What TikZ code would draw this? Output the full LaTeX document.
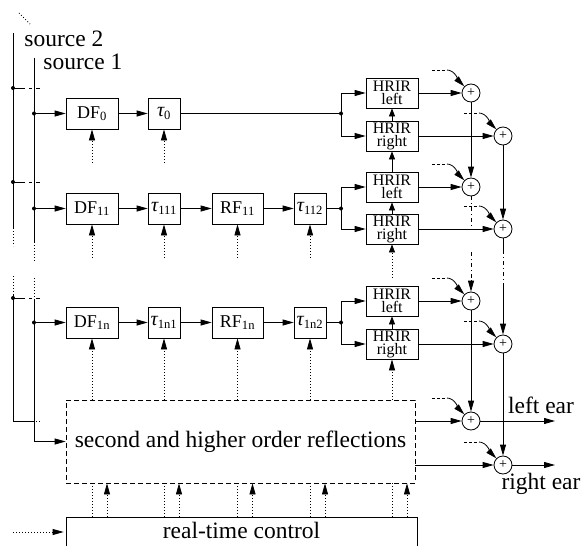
\documentclass[tikz,border=0pt]{standalone}
\usepackage{fontspec}
\setmainfont{Liberation Serif}
\usetikzlibrary{arrows.meta,calc}
\newcommand{\tauit}{{\fontsize{20}{20}\selectfont\itshape τ}}
\begin{document}
\begin{tikzpicture}[x=1pt,y=-1pt,line width=0.8pt,
  blk/.style={draw, minimum height=31pt, inner sep=0pt, font=\fontsize{18}{18}\selectfont},
  wideblk/.style={blk, minimum width=52pt},
  narrowblk/.style={blk, minimum width=32pt},
  hrir/.style={draw, minimum width=52pt, minimum height=30pt, inner sep=0pt, align=center, font=\fontsize{16}{13}\selectfont},
  sum/.style={draw, circle, minimum size=18pt, inner sep=0pt, font=\fontsize{14}{14}\selectfont},
  tip/.style={-{Triangle[length=11pt,width=6pt]}},
  stip/.style={-{Triangle[length=8pt,width=6pt]}},
  dotl/.style={dash pattern=on 0.8pt off 2.2pt},
  feed/.style={dash pattern=on 2.5pt off 2.5pt},
  dashdot/.style={dash pattern=on 4pt off 3pt on 1pt off 3pt},
  branch/.style={dash pattern=on 12pt off 4pt on 3pt off 4pt},
  lbl/.style={font=\fontsize{23.5}{23.5}\selectfont, inner sep=0pt},
  jdot/.style={circle, fill, inner sep=0pt, minimum size=4pt}]
\useasboundingbox (0,0) rectangle (582,546);
\clip (0,0) rectangle (582,546);

% source labels
\node[lbl, anchor=base west] (src2) at (24,46) {source 2};
\node[lbl, anchor=base west] (src1) at (43,70) {source 1};
\draw[dotl] (19,13) -- (30,24);

% first-order path blocks
\node[wideblk] (df0) at (92,113.5) {DF\textsubscript{0}};
\node[narrowblk] (t0) at (164,113.5) {\tauit\textsubscript{0}};

\node[wideblk] (df11) at (92,208.5) {DF\textsubscript{11}};
\node[narrowblk] (t111) at (164,208.5) {\tauit\textsubscript{111}};
\node[wideblk, minimum width=51pt] (rf11) at (237.5,208.5) {RF\textsubscript{11}};
\node[narrowblk] (t112) at (310,208.5) {\tauit\textsubscript{112}};

\node[wideblk] (df1n) at (92,322.5) {DF\textsubscript{1n}};
\node[narrowblk] (t1n1) at (164,322.5) {\tauit\textsubscript{1n1}};
\node[wideblk, minimum width=51pt] (rf1n) at (237.5,322.5) {RF\textsubscript{1n}};
\node[narrowblk] (t1n2) at (310,322.5) {\tauit\textsubscript{1n2}};

% HRIR filters
\node[hrir] (h1l) at (392,93) {HRIR\\left};
\node[hrir] (h1r) at (392,136) {HRIR\\right};
\node[hrir] (h2l) at (392,187) {HRIR\\left};
\node[hrir] (h2r) at (392,229) {HRIR\\right};
\node[hrir] (hnl) at (392,301) {HRIR\\left};
\node[hrir] (hnr) at (392,344) {HRIR\\right};

% summing points
\node[sum] (s1l) at (471,93) {+};
\node[sum] (s1r) at (503,136) {+};
\node[sum] (s2l) at (471,187) {+};
\node[sum] (s2r) at (503,229) {+};
\node[sum] (snl) at (471,301) {+};
\node[sum] (snr) at (503,344) {+};
\node[sum] (el) at (471,421) {+};
\node[sum] (er) at (503,465) {+};

% higher order block and control
\node[draw, dash pattern=on 5pt off 3pt, minimum width=349pt, minimum height=83pt, lbl] (sho) at (240.5,441.5) {second and higher order reflections};
\node[draw, minimum width=351pt, minimum height=50pt, anchor=north] (rtc) at (241.5,517) {};
\node[lbl, anchor=base] (rtctext) at (241.5,538) {real-time control};

% source 2 bus
\draw (13,33) -- (13,228);
\draw[dotl] (13,228) -- (13,246);
\draw[dotl] (13,276) -- (13,294);
\draw (13,294) -- (13,421) -- (33,421);
\draw[dotl] (33,421) -- (40,421);
\node[jdot] (b2a) at (13,88) {};
\node[jdot] (b2b) at (13,182) {};
\node[jdot] (b2n) at (13,298) {};
\foreach \b in {b2a,b2b,b2n} \draw[branch] (\b.center) -- ++(27,0);

% source 1 bus
\draw (34,58) -- (34,242);
\draw[dotl] (34,242) -- (34,262);
\draw[dotl] (34,278) -- (34,300);
\draw[tip] (34,300) |- (sho.west);
\node[jdot] (b1a) at (34,113.5) {};
\node[jdot] (b1b) at (34,208.5) {};
\node[jdot] (b1n) at (34,322.5) {};
\draw[tip] (b1a.center) -- (df0.west);
\draw[tip] (b1b.center) -- (df11.west);
\draw[tip] (b1n.center) -- (df1n.west);

% signal chains
\draw[tip] (df0) -- (t0);
\draw[tip] (df11) -- (t111);
\draw[tip] (t111) -- (rf11);
\draw[tip] (rf11) -- (t112);
\draw[tip] (df1n) -- (t1n1);
\draw[tip] (t1n1) -- (rf1n);
\draw[tip] (rf1n) -- (t1n2);

\node[jdot] (j1) at (341,113.5) {};
\node[jdot] (j2) at (341,208.5) {};
\node[jdot] (jn) at (341,322.5) {};
\draw (t0.east) -- (j1.center);
\draw (t112.east) -- (j2.center);
\draw (t1n2.east) -- (jn.center);
\draw[tip] (j1.center) |- (h1l.west);
\draw[tip] (j1.center) |- (h1r.west);
\draw[tip] (j2.center) |- (h2l.west);
\draw[tip] (j2.center) |- (h2r.west);
\draw[tip] (jn.center) |- (hnl.west);
\draw[tip] (jn.center) |- (hnr.west);

% control inputs of the blocks
\foreach \b in {df0,t0,df11,t111,rf11,t112}
  \draw[dotl, tip] ($(\b.south)+(0,33)$) -- (\b.south);
\foreach \b in {df1n,t1n1,rf1n,t1n2,hnr} {
  \draw[dotl, tip] (sho.north -| \b.south) -- (\b.south);
  \draw[dotl] (rtc.north -| \b.south) -- (sho.south -| \b.south);
  \draw[dotl, tip] ($(rtc.north -| \b.south)+(15,0)$) -- ($(sho.south -| \b.south)+(15,0)$);
}
\coordinate (ctlin) at (13,532);
\draw[dotl, tip, shorten >=2pt] (ctlin) -- (ctlin -| rtc.west);

% HRIR control chain
\draw[stip] (h1r.north) -- (h1l.south);
\draw[stip] (h2l.north) -- (h1r.south);
\draw[stip] (h2r.north) -- (h2l.south);
\draw[dotl, stip] ($(h2r.south)+(0,33)$) -- (h2r.south);
\draw[stip] (hnr.north) -- (hnl.south);

% HRIR outputs to summing points
\draw[tip] (h1l.east) -- (s1l.west);
\draw[tip] (h1r.east) -- (s1r.west);
\draw[tip] (h2l.east) -- (s2l.west);
\draw[tip] (h2r.east) -- (s2r.west);
\draw[tip] (hnl.east) -- (snl.west);
\draw[tip] (hnr.east) -- (snr.west);
\draw[tip] (sho.east |- el.west) -- (el.west);
\draw[tip] (sho.east |- er.west) -- (er.west);

% inputs from the other sources
\foreach \s in {s1l,s1r,s2l,s2r,snl,snr,el,er} {
  \draw[feed] ($(\s)+(-39,-23)$) -- ++(15,0) coordinate (\s f);
  \draw[tip] (\s f) .. controls +(8,0) and +(-5,-5) .. (\s.north west);
}

% summing chains
\draw[tip] (s1l.south) -- (s2l.north);
\draw[tip] (s1r.south) -- (s2r.north);
\draw[dashdot] (s2l.south) -- (471,228);
\draw[dashdot] (471,252) -- (471,280);
\draw[tip] (471,280) -- (snl.north);
\draw (s2r.south) -- (503,250);
\draw[dashdot] (503,250) -- (503,284);
\draw[tip] (503,284) -- (snr.north);
\draw[tip] (snl.south) -- (el.north);
\draw[tip] (snr.south) -- (er.north);

% ear outputs
\coordinate (lout) at (555,421);
\coordinate (rout) at (555,465);
\draw[tip] (el.east) -- (lout);
\draw[tip] (er.east) -- (rout);
\node[lbl, anchor=base] (lear) at (541,413) {left ear};
\node[lbl, anchor=base] (rear) at (541,489) {right ear};
\end{tikzpicture}
\end{document}
